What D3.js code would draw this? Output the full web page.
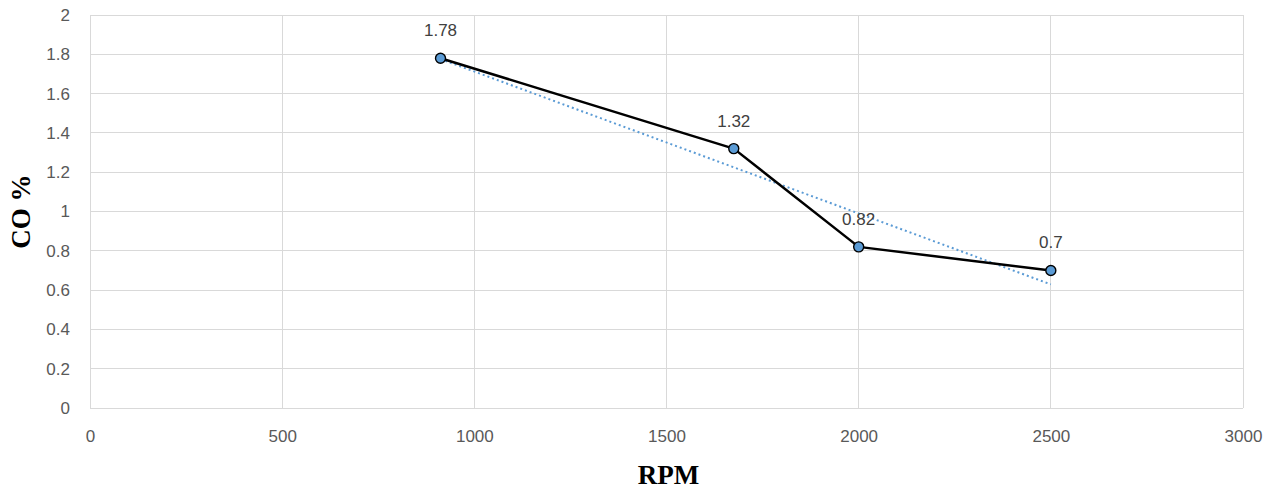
<!DOCTYPE html>
<html>
<head>
<meta charset="utf-8">
<script src="https://cdn.jsdelivr.net/npm/d3@7"></script>
<style>
  html, body { margin: 0; padding: 0; background: #fff; }
  svg { display: block; }
</style>
</head>
<body>
<svg id="chart" width="1283" height="491"></svg>
<script>
// Engine speed vs CO emission
const rpm = [912, 1675, 2000, 2500];
const coPercent = [1.78, 1.32, 0.82, 0.7];
const xTicks = [0, 500, 1000, 1500, 2000, 2500, 3000];
const yTicks = [0, 0.2, 0.4, 0.6, 0.8, 1, 1.2, 1.4, 1.6, 1.8, 2];

const svg = d3.select("#chart");
const margin = { left: 90, right: 40, top: 15, bottom: 83 };
const W = 1283, H = 491;

const x = d3.scaleLinear().domain([0, 3000]).range([margin.left, W - margin.right]);
const y = d3.scaleLinear().domain([0, 2]).range([H - margin.bottom, margin.top]);

const grid = "#d9d9d9";
const tickColor = "#595959";
const tickFont = "'Liberation Sans', Arial, sans-serif";
const titleFont = "'Liberation Serif', 'Times New Roman', serif";

// gridlines
svg.append("g").selectAll("line").data(yTicks).join("line")
  .attr("x1", x(0)).attr("x2", x(3000))
  .attr("y1", d => y(d)).attr("y2", d => y(d))
  .attr("stroke", grid).attr("stroke-width", 1).attr("shape-rendering", "crispEdges");
svg.append("g").selectAll("line").data(xTicks).join("line")
  .attr("x1", d => x(d)).attr("x2", d => x(d))
  .attr("y1", y(0)).attr("y2", y(2))
  .attr("stroke", grid).attr("stroke-width", 1).attr("shape-rendering", "crispEdges");

// axes (labels only; lines come from the grid)
const yAxis = d3.axisLeft(y).tickValues(yTicks).tickSize(0).tickPadding(20).tickFormat(d3.format("~g"));
const gy = svg.append("g").attr("transform", `translate(${x(0)},0)`).call(yAxis);
gy.select(".domain").remove();
gy.selectAll("text").attr("fill", tickColor).style("font-family", tickFont).style("font-size", "17px");

const xAxis = d3.axisBottom(x).tickValues(xTicks).tickSize(0).tickPadding(22).tickFormat(d3.format("d"));
const gx = svg.append("g").attr("transform", `translate(0,${y(0)})`).call(xAxis);
gx.select(".domain").remove();
gx.selectAll("text").attr("fill", tickColor).style("font-family", tickFont).style("font-size", "17px");

// linear trendline through the measurements
const mx = d3.mean(rpm), my = d3.mean(coPercent);
const slope = d3.sum(rpm.map((v, i) => (v - mx) * (coPercent[i] - my))) /
              d3.sum(rpm.map(v => (v - mx) * (v - mx)));
const intercept = my - slope * mx;
const xr = d3.extent(rpm);
svg.append("line")
  .attr("x1", x(xr[0])).attr("y1", y(intercept + slope * xr[0]))
  .attr("x2", x(xr[1])).attr("y2", y(intercept + slope * xr[1]))
  .attr("stroke", "#5b9bd5").attr("stroke-width", 2)
  .attr("stroke-dasharray", "2,3");

// series line
const pts = rpm.map((r, i) => [r, coPercent[i]]);
svg.append("path")
  .datum(pts)
  .attr("d", d3.line().x(d => x(d[0])).y(d => y(d[1])))
  .attr("fill", "none").attr("stroke", "#000").attr("stroke-width", 2.5)
  .attr("stroke-linejoin", "round");

// markers
svg.append("g").selectAll("circle").data(pts).join("circle")
  .attr("cx", d => x(d[0])).attr("cy", d => y(d[1])).attr("r", 5)
  .attr("fill", "#5b9bd5").attr("stroke", "#000").attr("stroke-width", 1.4);

// data labels
svg.append("g").selectAll("text").data(pts).join("text")
  .attr("x", d => x(d[0])).attr("y", d => y(d[1]) - 22)
  .attr("text-anchor", "middle")
  .attr("fill", "#404040")
  .style("font-family", tickFont).style("font-size", "17px")
  .text(d => d[1]);

// axis titles
svg.append("text")
  .attr("x", (x(0) + x(3000)) / 2 + 2).attr("y", 484)
  .attr("text-anchor", "middle")
  .style("font-family", titleFont)
  .style("font-weight", "bold").style("font-size", "27px")
  .text("RPM");
svg.append("text")
  .attr("transform", `translate(30,${(y(0) + y(2)) / 2}) rotate(-90)`)
  .attr("text-anchor", "middle")
  .style("font-family", titleFont)
  .style("font-weight", "bold").style("font-size", "27px")
  .text("CO %");
</script>
</body>
</html>
